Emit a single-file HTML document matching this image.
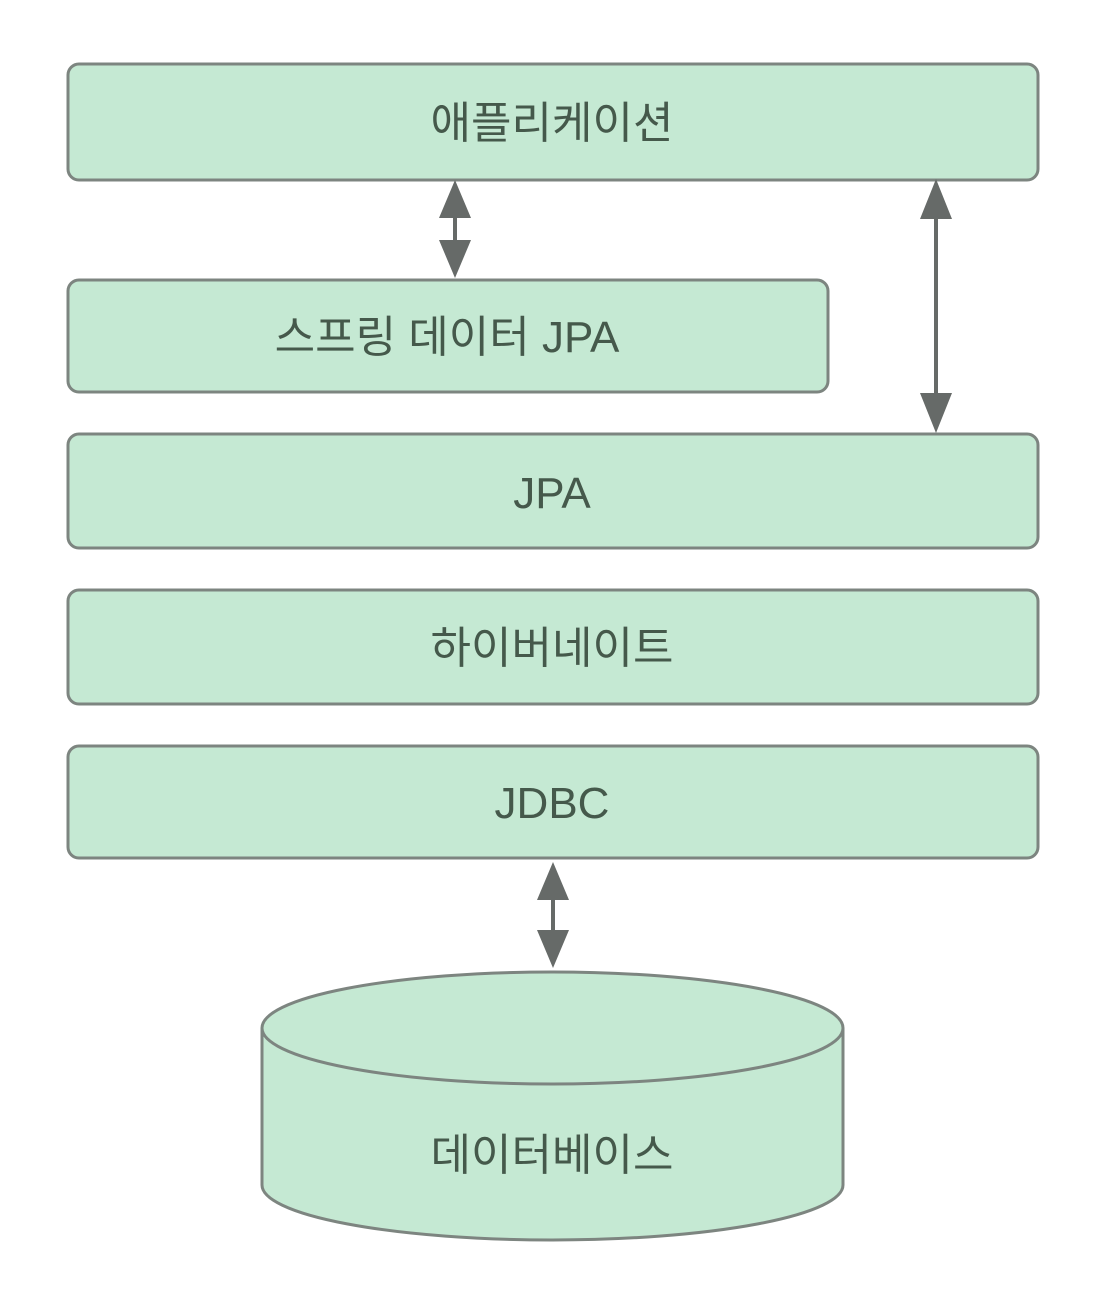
<!DOCTYPE html>
<html><head><meta charset="utf-8"><style>
html,body{margin:0;padding:0;background:#fff;}
svg{display:block;}
text{font-family:"Liberation Sans","Noto Sans CJK KR",sans-serif;font-size:44px;fill:#45594b;text-anchor:middle;}
</style></head><body>
<svg width="1100" height="1316" viewBox="0 0 1100 1316" xmlns="http://www.w3.org/2000/svg">
<g fill="#c5e9d3" stroke="#7d8580" stroke-width="3">
<rect x="68" y="64" width="970" height="116" rx="11"/>
<rect x="68" y="280" width="760" height="112" rx="11"/>
<rect x="68" y="434" width="970" height="114" rx="11"/>
<rect x="68" y="590" width="970" height="114" rx="11"/>
<rect x="68" y="746" width="970" height="112" rx="11"/>
<path d="M262 1028 L262 1185 A290.5 55 0 0 0 843 1185 L843 1028"/>
<ellipse cx="552.5" cy="1028" rx="290.5" ry="56"/>
</g>
<g fill="#666a68" stroke="#666a68">
<line x1="455" y1="200" x2="455" y2="260" stroke-width="4"/>
<polygon points="455,180 439,218 471,218" stroke="none"/>
<polygon points="455,278 439,240 471,240" stroke="none"/>
<line x1="936" y1="200" x2="936" y2="415" stroke-width="4"/>
<polygon points="936,179 920,219 952,219" stroke="none"/>
<polygon points="936,433 920,393 952,393" stroke="none"/>
<line x1="553" y1="880" x2="553" y2="950" stroke-width="4"/>
<polygon points="553,862 537,900 569,900" stroke="none"/>
<polygon points="553,968 537,930 569,930" stroke="none"/>
</g>
<text x="552" y="138">애플리케이션</text>
<text x="447" y="352">스프링 데이터 JPA</text>
<text x="552" y="508">JPA</text>
<text x="552" y="663">하이버네이트</text>
<text x="552" y="818">JDBC</text>
<text x="552" y="1170">데이터베이스</text>
</svg>
</body></html>
